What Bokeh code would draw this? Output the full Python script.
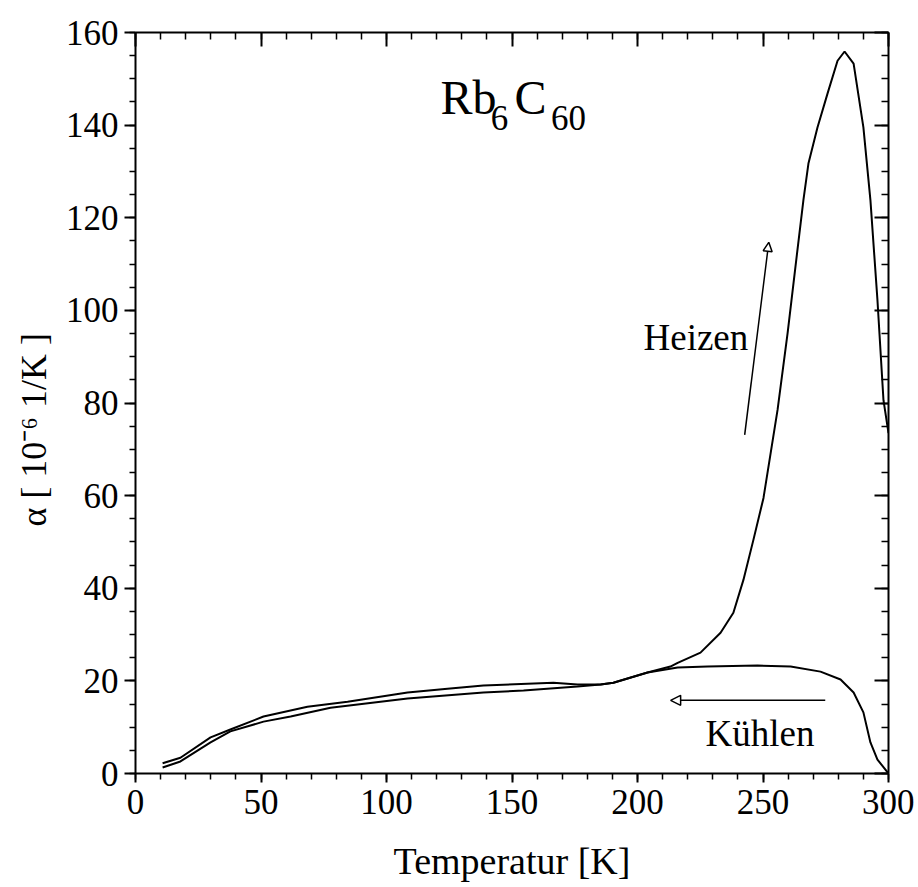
from bokeh.plotting import figure
from bokeh.models import (LinearAxis, SingleIntervalTicker, Range1d, Label, Arrow,
                          NormalHead, CustomJSTickFormatter, Title)
from bokeh.embed import file_html
from bokeh.resources import INLINE

# ---- data ----
heat_T = [10.8, 17.9, 29.9, 37.8, 51.0, 61.8, 77.7, 108.4, 138.6, 154.6, 176.1, 185.3,
          190.4, 204.0, 213.1, 216.0, 225.1, 233.1, 238.2, 242.2, 246.2, 250.2, 255.8,
          259.8, 262.9, 266.1, 268.1, 271.7, 275.7, 279.7, 282.5, 286.1, 290.0, 292.8,
          295.6, 298.0, 300.0]
heat_a = [1.3, 2.6, 6.7, 9.1, 11.2, 12.3, 14.2, 16.2, 17.5, 17.9, 18.8, 19.2,
          19.6, 21.8, 23.1, 23.9, 26.1, 30.4, 34.7, 41.8, 50.5, 59.5, 78.5,
          95.1, 109.3, 123.8, 131.7, 139.5, 146.8, 153.9, 155.9, 153.3, 139.5, 123.8,
          102.2, 80.6, 73.5]

cool_T = [300.0, 295.6, 292.8, 290.0, 286.1, 280.9, 272.9, 261.0, 247.8, 227.9, 216.0,
          204.0, 190.4, 185.3, 176.1, 166.5, 138.6, 124.3, 108.4, 84.5, 68.5, 51.0,
          37.8, 29.9, 17.9, 10.8]
cool_a = [0.0, 3.0, 6.7, 13.2, 17.5, 20.3, 22.0, 23.1, 23.3, 23.1, 22.9,
          21.8, 19.6, 19.2, 19.2, 19.6, 19.0, 18.3, 17.5, 15.5, 14.4, 12.3,
          9.5, 7.8, 3.4, 2.2]

x_ticks = [0, 50, 100, 150, 200, 250, 300]
y_ticks = [0, 20, 40, 60, 80, 100, 120, 140, 160]

x_label = "Temperatur [K]"
y_label = "α [ 10⁻⁶ 1/K ]"
heat_label = "Heizen"
cool_label = "Kühlen"

FONT = "Liberation Serif"

p = figure(width=914, height=884, output_backend="svg", toolbar_location=None,
           x_range=Range1d(x_ticks[0], x_ticks[-1]), y_range=Range1d(y_ticks[0], y_ticks[-1]),
           min_border_left=135, min_border_right=26, min_border_top=32, min_border_bottom=110,
           x_axis_label=x_label)
p.outline_line_color = None
p.xgrid.visible = False
p.ygrid.visible = False
p.background_fill_color = "white"
p.border_fill_color = "white"

xt = SingleIntervalTicker(interval=50, num_minor_ticks=5)
yt = SingleIntervalTicker(interval=20, num_minor_ticks=4)

for ax in p.xaxis:
    ax.ticker = xt
for ax in p.yaxis:
    ax.ticker = yt

def style_main(ax, major_out, minor_out, standoff, label_standoff, label_size):
    ax.axis_line_color = "black"
    ax.axis_line_width = 2
    ax.major_tick_line_color = "black"
    ax.minor_tick_line_color = "black"
    ax.major_tick_line_width = 2
    ax.minor_tick_line_width = 1.5
    ax.major_tick_in = 0
    ax.major_tick_out = major_out
    ax.minor_tick_in = 0
    ax.minor_tick_out = minor_out
    ax.major_label_text_font = FONT
    ax.major_label_text_font_size = "35px"
    ax.major_label_text_color = "black"
    ax.major_label_standoff = standoff
    ax.axis_label_text_font = FONT
    ax.axis_label_text_font_style = "normal"
    ax.axis_label_text_font_size = label_size
    ax.axis_label_text_color = "black"
    ax.axis_label_standoff = label_standoff

style_main(p.xaxis[0], 9, 6, 7, 23, "38px")
style_main(p.yaxis[0], 11, 6, 6, 12, "36px")

blank = CustomJSTickFormatter(code="return ''")
for side, tick in (("above", xt), ("right", yt)):
    ax = LinearAxis(ticker=tick, formatter=blank, axis_line_color="black", axis_line_width=2,
                    major_tick_in=14, major_tick_out=0, minor_tick_in=7, minor_tick_out=0,
                    major_tick_line_width=2, minor_tick_line_width=1.5,
                    major_label_standoff=0)
    p.add_layout(ax, side)

# y axis label, as a side title so that it can sit a little below the centre
p.add_layout(Title(text=y_label, align="left", offset=247, standoff=18,
                   text_font=FONT, text_font_size="36px", text_font_style="normal",
                   text_color="black"), "left")

p.line(heat_T, heat_a, line_color="black", line_width=2)
p.line(cool_T, cool_a, line_color="black", line_width=2)

# title Rb6C60 with subscripts
p.add_layout(Label(x=121.5, y=146.0, text="Rb", text_font=FONT, text_font_size="48px",
                   text_align="left", text_baseline="alphabetic", text_color="black"))
p.add_layout(Label(x=141.5, y=141.5, text="6", text_font=FONT, text_font_size="35px",
                   text_align="left", text_baseline="alphabetic", text_color="black"))
p.add_layout(Label(x=151.0, y=146.0, text="C", text_font=FONT, text_font_size="48px",
                   text_align="left", text_baseline="alphabetic", text_color="black"))
p.add_layout(Label(x=165.5, y=141.5, text="60", text_font=FONT, text_font_size="35px",
                   text_align="left", text_baseline="alphabetic", text_color="black"))

p.add_layout(Label(x=202.4, y=94.2, text=heat_label, text_font=FONT, text_font_size="37px",
                   text_align="left", text_baseline="alphabetic", text_color="black"))
p.add_layout(Label(x=227.1, y=8.6, text=cool_label, text_font=FONT, text_font_size="37px",
                   text_align="left", text_baseline="alphabetic", text_color="black"))

p.add_layout(Arrow(x_start=242.7, y_start=73.1, x_end=252.3, y_end=114.7, line_width=1.5,
                   line_color="black",
                   end=NormalHead(size=9, fill_color="white", line_color="black", line_width=1.5)))
p.add_layout(Arrow(x_start=274.8, y_start=15.8, x_end=213.2, y_end=15.8, line_width=1.5,
                   line_color="black",
                   end=NormalHead(size=10, fill_color="white", line_color="black", line_width=1.5)))

open("out.html", "w").write(file_html(p, INLINE))
